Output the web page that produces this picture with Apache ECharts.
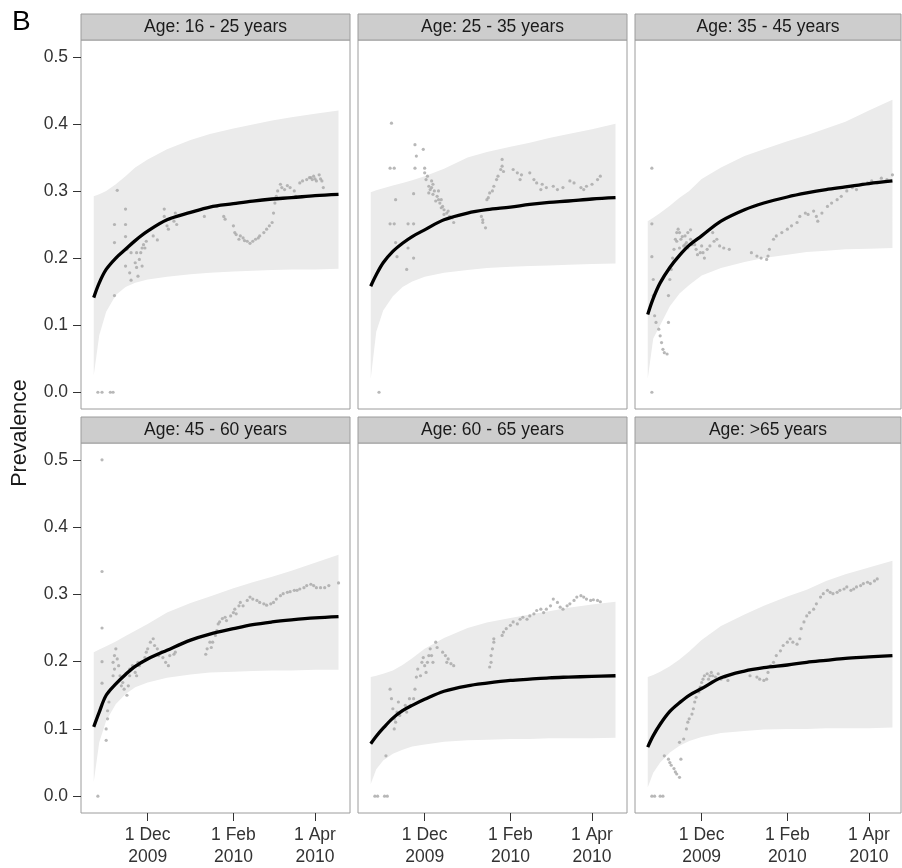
<!DOCTYPE html>
<html>
<head>
<meta charset="utf-8">
<script src="https://cdn.jsdelivr.net/npm/echarts@6/dist/echarts.min.js"></script>
<style>
html,body{margin:0;padding:0;background:#fff;}
#chart{width:902px;height:868px;}
</style>
</head>
<body>
<div id="chart"></div>
<script>
// ---------------- DATA (x = days since 1 Dec 2009) ----------------
const panelTitles = ['Age: 16 - 25 years','Age: 25 - 35 years','Age: 35 - 45 years',
                     'Age: 45 - 60 years','Age: 60 - 65 years','Age: >65 years'];
const xTickDays   = [0, 62, 121];
const xTickLabels = ['1 Dec\n2009', '1 Feb\n2010', '1 Apr\n2010'];
const yTicks      = [0, 0.1, 0.2, 0.3, 0.4, 0.5];
const yLabelText  = 'Prevalence';
const panelLetter = 'B';

// fitted curve & interval: 23 Oct, 27 Oct, 1 Nov, 8 Nov, 15 Nov, 22 Nov, 1 Dec, 15 Dec, 1 Jan, 15 Jan, 1 Feb, 15 Feb, 1 Mar, 15 Mar, 1 Apr, 18 Apr
const fitDays = [-39,-35,-30,-23,-16,-9,0,14,31,45,62,76,90,104,121,138];

const fit1 = [0.141,0.163,0.183,0.200,0.213,0.226,0.240,0.257,0.268,0.276,0.281,0.285,0.288,0.290,0.293,0.295];
const lo1  = [0.025,0.085,0.120,0.145,0.157,0.163,0.168,0.172,0.176,0.178,0.180,0.181,0.182,0.183,0.183,0.184];
const hi1  = [0.292,0.295,0.300,0.310,0.322,0.335,0.347,0.362,0.376,0.385,0.393,0.399,0.405,0.410,0.415,0.420];

const fit2 = [0.158,0.175,0.193,0.210,0.222,0.232,0.242,0.257,0.267,0.272,0.276,0.280,0.283,0.285,0.288,0.290];
const lo2  = [0.020,0.090,0.122,0.143,0.157,0.165,0.172,0.178,0.182,0.185,0.187,0.188,0.189,0.190,0.191,0.192];
const hi2  = [0.298,0.301,0.304,0.308,0.312,0.316,0.322,0.333,0.350,0.358,0.366,0.372,0.379,0.385,0.392,0.400];

const fit3 = [0.116,0.140,0.163,0.186,0.204,0.219,0.233,0.255,0.272,0.282,0.291,0.297,0.302,0.306,0.311,0.315];
const lo3  = [0.020,0.080,0.100,0.128,0.147,0.160,0.174,0.185,0.194,0.200,0.205,0.209,0.211,0.213,0.214,0.215];
const hi3  = [0.255,0.260,0.267,0.278,0.290,0.300,0.318,0.335,0.352,0.362,0.374,0.383,0.393,0.403,0.420,0.436];

const fit4 = [0.103,0.125,0.150,0.167,0.181,0.193,0.204,0.217,0.232,0.241,0.249,0.255,0.259,0.262,0.265,0.267];
const lo4  = [0.021,0.080,0.112,0.137,0.152,0.162,0.169,0.176,0.181,0.184,0.185,0.186,0.187,0.187,0.188,0.188];
const hi4  = [0.214,0.218,0.223,0.230,0.238,0.246,0.256,0.273,0.287,0.297,0.309,0.318,0.326,0.335,0.347,0.359];

const fit5 = [0.078,0.089,0.101,0.116,0.127,0.135,0.144,0.156,0.164,0.168,0.172,0.174,0.176,0.177,0.178,0.179];
const lo5  = [0.018,0.040,0.053,0.063,0.069,0.074,0.077,0.081,0.083,0.084,0.085,0.085,0.086,0.086,0.086,0.087];
const hi5  = [0.177,0.179,0.182,0.187,0.195,0.205,0.219,0.235,0.250,0.258,0.265,0.270,0.275,0.280,0.285,0.289];

const fit6 = [0.073,0.090,0.107,0.126,0.139,0.150,0.160,0.176,0.186,0.191,0.195,0.199,0.202,0.205,0.207,0.209];
const lo6  = [0.013,0.035,0.050,0.065,0.075,0.082,0.088,0.094,0.097,0.099,0.100,0.100,0.101,0.101,0.101,0.102];
const hi6  = [0.177,0.180,0.185,0.193,0.203,0.215,0.232,0.253,0.270,0.283,0.297,0.307,0.320,0.330,0.340,0.350];

// observed daily prevalence [day, value]
const obs1 = [[-36,0],[-33,0],[-27,0],[-25,0],[-24,0.144],[-22,0.301],[-24,0.25],[-24,0.223],
 [-16,0.273],[-16,0.25],[-16,0.232],[-16,0.188],[-15,0.213],[-13,0.178],[-12,0.167],[-12,0.208],
 [-9,0.193],[-8,0.208],[-8,0.186],[-7,0.173],[-6,0.198],[-5,0.208],[-4,0.188],[-4,0.215],[-3,0.22],[-2,0.215],[-1,0.225],
 [4,0.233],[7,0.227],[12,0.273],[12,0.262],[14,0.248],[15,0.243],[16,0.258],[19,0.255],[20,0.267],[21,0.25],
 [41,0.262],[50,0.277],[55,0.262],[56,0.258],
 [62,0.248],[63,0.238],[64,0.235],[66,0.228],[67,0.233],[69,0.23],[70,0.226],[72,0.225],[74,0.222],[76,0.225],[78,0.228],
 [80,0.23],[81,0.233],[84,0.238],[86,0.243],[88,0.248],[90,0.253],[91,0.267],[92,0.282],[93,0.292],[94,0.3],[96,0.31],[97,0.305],
 [99,0.302],[101,0.308],[103,0.305],[106,0.3],[107,0.292],[110,0.312],[112,0.315],[115,0.317],[117,0.32],[118,0.32],[119,0.317],
 [120,0.322],[121,0.318],[122,0.315],[124,0.324],[125,0.318],[126,0.315],[127,0.305]];

const obs2 = [[-33,0],[-24,0.401],[-25,0.334],[-22,0.334],[-21,0.287],[-25,0.251],[-22,0.251],[-12,0.251],[-8,0.251],
 [-21,0.223],[-20,0.202],[-13,0.183],[-12,0.215],[-8,0.2],[-8,0.296],[-7,0.369],[-6,0.352],[-1,0.362],[-7,0.334],[0,0.334],
 [0,0.327],[1,0.317],[2,0.322],[3,0.307],[3,0.297],[4,0.302],[5,0.315],[5,0.305],[6,0.31],[6,0.295],[7,0.3],[8,0.285],[9,0.292],
 [10,0.287],[10,0.3],[11,0.282],[12,0.287],[12,0.275],[13,0.277],[14,0.272],[14,0.265],[16,0.267],[17,0.27],[18,0.262],[20,0.26],[21,0.253],
 [41,0.262],[42,0.253],[42,0.257],[44,0.245],[45,0.287],[46,0.29],[47,0.297],[49,0.3],[50,0.307],[52,0.317],[53,0.322],[55,0.332],
 [56,0.347],[56,0.337],[57,0.329],[64,0.332],[67,0.327],[69,0.317],[70,0.324],[76,0.327],[79,0.317],[81,0.312],[84,0.302],[85,0.31],
 [88,0.305],[93,0.307],[96,0.302],[100,0.305],[105,0.315],[108,0.312],[113,0.305],[115,0.302],[117,0.307],[121,0.31],[125,0.317],[127,0.322]];

const obs3 = [[-36,0],[-36,0.334],[-36,0.251],[-36,0.202],[-35,0.168],[-35,0.144],[-34,0.114],[-33,0.104],
 [-31,0.094],[-30,0.084],[-29,0.074],[-28,0.064],[-27,0.059],[-25,0.057],[-24,0.104],[-24,0.144],[-23,0.168],[-22,0.183],[-21,0.2],[-20,0.213],
 [-19,0.228],[-18,0.238],[-18,0.225],[-17,0.243],[-16,0.238],[-16,0.215],[-15,0.228],[-14,0.232],[-13,0.218],[-12,0.233],[-12,0.22],
 [-11,0.223],[-10,0.238],[-10,0.215],[-8,0.228],[-8,0.242],[-7,0.22],[-6,0.225],[-5,0.22],[-4,0.213],[-3,0.205],[-1,0.208],[0,0.218],
 [1,0.208],[2,0.2],[4,0.213],[6,0.218],[8,0.238],[9,0.225],[11,0.228],[13,0.218],[16,0.215],[20,0.213],
 [36,0.208],[40,0.203],[43,0.2],[47,0.198],[48,0.203],[49,0.213],[52,0.228],[54,0.233],[58,0.238],[62,0.243],[65,0.248],[69,0.253],
 [71,0.262],[75,0.267],[77,0.265],[81,0.27],[83,0.262],[84,0.255],[87,0.267],[91,0.277],[94,0.282],[98,0.287],[101,0.292],[105,0.3],
 [109,0.305],[112,0.302],[116,0.31],[120,0.312],[123,0.315],[127,0.312],[130,0.319],[134,0.317],[138,0.324]];

const obs4 = [[-36,0],[-33,0.5],[-33,0.334],[-33,0.25],[-33,0.2],[-33,0.168],
 [-30,0.083],[-30,0.1],[-29,0.115],[-29,0.127],[-28,0.14],[-28,0.155],
 [-25,0.179],[-25,0.199],[-24,0.209],[-24,0.189],[-23,0.219],[-22,0.204],[-21,0.194],[-20,0.179],[-19,0.164],[-18,0.169],
 [-17,0.159],[-15,0.15],[-14,0.164],[-13,0.179],[-13,0.189],[-11,0.194],[-9,0.184],[-8,0.179],[-7,0.199],[-6,0.194],[-4,0.199],
 [-2,0.206],[-1,0.214],[0,0.219],[2,0.229],[4,0.234],[5,0.224],[7,0.219],[8,0.209],[10,0.214],[11,0.206],[13,0.199],[15,0.194],
 [16,0.209],[19,0.211],[20,0.214],
 [42,0.211],[43,0.219],[45,0.229],[46,0.221],[47,0.229],[49,0.239],[50,0.246],[51,0.256],[52,0.259],[54,0.264],[56,0.266],[57,0.261],
 [60,0.268],[62,0.273],[63,0.278],[64,0.271],[66,0.283],[67,0.288],[69,0.283],[72,0.291],[74,0.296],[76,0.293],[79,0.291],[81,0.288],
 [84,0.286],[86,0.284],[89,0.286],[91,0.288],[93,0.293],[96,0.298],[98,0.301],[101,0.303],[103,0.304],[106,0.306],[108,0.306],
 [110,0.308],[113,0.31],[115,0.313],[118,0.315],[120,0.313],[122,0.31],[125,0.31],[128,0.31],[131,0.313],[138,0.317]];

const obs5 = [[-36,0],[-34,0],[-29,0],[-27,0],[-28,0.06],
 [-25,0.159],[-24,0.145],[-23,0.13],[-22,0.115],[-22,0.1],[-21,0.11],[-20,0.125],[-19,0.14],[-18,0.12],
 [-16,0.127],[-14,0.135],[-13,0.125],[-11,0.145],[-10,0.135],[-8,0.145],[-7,0.159],[-6,0.177],[-5,0.189],[-3,0.179],[-2,0.199],
 [-1,0.206],[0,0.194],[1,0.184],[2,0.199],[3,0.209],[4,0.219],[5,0.209],[6,0.199],[8,0.229],[9,0.221],[13,0.214],[15,0.209],
 [16,0.199],[17,0.204],[19,0.197],[21,0.194],
 [47,0.192],[48,0.199],[48,0.209],[49,0.219],[50,0.229],[50,0.234],
 [56,0.239],[57,0.244],[59,0.249],[62,0.254],[64,0.259],[67,0.256],[69,0.263],[71,0.266],[74,0.263],[76,0.268],[79,0.271],[81,0.276],
 [84,0.278],[86,0.273],[88,0.278],[91,0.283],[93,0.293],[96,0.288],[98,0.281],[100,0.278],[103,0.283],[105,0.286],[108,0.291],
 [110,0.296],[113,0.298],[115,0.296],[117,0.293],[120,0.291],[122,0.292],[125,0.291],[127,0.289]];

const obs6 = [[-36,0],[-34,0],[-30,0],[-28,0],
 [-27,0.06],[-24,0.055],[-23,0.05],[-22,0.046],[-20,0.041],[-19,0.036],[-18,0.033],[-16,0.028],[-15,0.055],[-16,0.08],
 [-13,0.085],[-11,0.1],[-10,0.11],[-9,0.115],[-7,0.122],[-6,0.13],[-5,0.14],[-4,0.147],[-2,0.155],[-1,0.162],[0,0.169],[1,0.174],
 [2,0.179],[4,0.182],[5,0.174],[6,0.179],[7,0.184],[8,0.179],[10,0.177],[12,0.182],[14,0.174],[17,0.177],[19,0.172],
 [35,0.179],[40,0.177],[42,0.174],[45,0.172],[47,0.174],[48,0.184],[50,0.194],[52,0.199],[54,0.209],[57,0.216],[59,0.224],[62,0.229],
 [64,0.234],[66,0.229],[69,0.226],[71,0.234],[72,0.249],[74,0.259],[76,0.268],[78,0.273],[81,0.278],[83,0.286],[86,0.296],[88,0.301],
 [91,0.306],[93,0.303],[95,0.301],[98,0.303],[100,0.306],[103,0.308],[105,0.311],[108,0.306],[110,0.308],[112,0.311],[115,0.313],
 [117,0.316],[120,0.318],[122,0.316],[125,0.32],[127,0.323]];

// ---------------- LAYOUT / STYLE ----------------
const panels = [
  {fit: fit1, lo: lo1, hi: hi1, obs: obs1},
  {fit: fit2, lo: lo2, hi: hi2, obs: obs2},
  {fit: fit3, lo: lo3, hi: hi3, obs: obs3},
  {fit: fit4, lo: lo4, hi: hi4, obs: obs4},
  {fit: fit5, lo: lo5, hi: hi5, obs: obs5},
  {fit: fit6, lo: lo6, hi: hi6, obs: obs6}
];
const colLeft = [81, 358, 635], colWidth = [269, 269, 266];
const rowTop = [40, 443], rowHeight = [369, 370], stripH = 26;
const xMin = -48.2, xMaxByCol = [146.3, 146.3, 144.2];
const FONT = '"Liberation Sans", Arial, Helvetica, sans-serif';

function bandRenderer(p) {
  return function (params, api) {
    if (params.dataIndex !== 0) return null;
    const upper = fitDays.map((d, k) => api.coord([d, p.hi[k]]));
    const lower = fitDays.map((d, k) => api.coord([d, p.lo[k]])).reverse();
    return {type: 'polygon', shape: {points: upper.concat(lower)},
      style: {fill: '#ebebeb', stroke: null}, silent: true};
  };
}

const grids = [], xAxes = [], yAxes = [], series = [], graphics = [];
panels.forEach((p, i) => {
  const r = Math.floor(i / 3), c = i % 3;
  grids.push({left: colLeft[c], top: rowTop[r], width: colWidth[c], height: rowHeight[r],
    show: true, borderColor: '#9c9c9c', borderWidth: 1, backgroundColor: 'transparent'});
  xAxes.push({type: 'value', gridIndex: i, min: xMin, max: xMaxByCol[c], position: 'bottom',
    axisLine: {show: false, onZero: false}, splitLine: {show: false},
    axisTick: {show: r === 1, customValues: xTickDays, length: 8, lineStyle: {color: '#333', width: 1}},
    axisLabel: {show: r === 1, customValues: xTickDays, margin: 11, fontSize: 17.5, lineHeight: 22,
      color: '#333', fontFamily: FONT,
      formatter: v => { const k = xTickDays.indexOf(Math.round(v)); return k >= 0 ? xTickLabels[k] : ''; }}});
  yAxes.push({type: 'value', gridIndex: i, min: -0.025, max: 0.525, position: 'left',
    axisLine: {show: false, onZero: false}, splitLine: {show: false},
    axisTick: {show: c === 0, customValues: yTicks, length: 8, lineStyle: {color: '#333', width: 1}},
    axisLabel: {show: c === 0, customValues: yTicks, margin: 13, fontSize: 17.5, color: '#333', fontFamily: FONT,
      formatter: v => v.toFixed(1)}});
  series.push({type: 'custom', xAxisIndex: i, yAxisIndex: i, renderItem: bandRenderer(p),
    data: fitDays.map((d, k) => [d, p.lo[k], p.hi[k]]), encode: {x: 0, y: [1, 2]}, silent: true, z: 1});
  series.push({type: 'scatter', xAxisIndex: i, yAxisIndex: i, data: p.obs, symbolSize: 3.2,
    itemStyle: {color: '#a6a6a6'}, silent: true, z: 2});
  series.push({type: 'line', xAxisIndex: i, yAxisIndex: i, symbol: 'none', smooth: 0.35,
    data: fitDays.map((d, k) => [d, p.fit[k]]), lineStyle: {color: '#000', width: 3.3}, silent: true, z: 3});
  graphics.push({type: 'rect', shape: {x: colLeft[c], y: rowTop[r] - stripH, width: colWidth[c], height: stripH},
    style: {fill: '#cdcdcd', stroke: '#9c9c9c', lineWidth: 1}, z: 10});
  graphics.push({type: 'text', x: colLeft[c] + colWidth[c] / 2, y: rowTop[r] - stripH / 2,
    style: {text: panelTitles[i], font: '17.5px ' + FONT, fill: '#1a1a1a', align: 'center', verticalAlign: 'middle'}, z: 11});
});
graphics.push({type: 'text', x: 12, y: 22,
  style: {text: panelLetter, font: '28px ' + FONT, fill: '#000', align: 'left', verticalAlign: 'middle'}});
graphics.push({type: 'text', x: 20, y: 433, rotation: Math.PI / 2,
  style: {text: yLabelText, font: '21.5px ' + FONT, fill: '#1a1a1a', align: 'center', verticalAlign: 'middle'}});

const chart = echarts.init(document.getElementById('chart'), null, {renderer: 'canvas'});
chart.setOption({
  animation: false,
  backgroundColor: '#fff',
  grid: grids, xAxis: xAxes, yAxis: yAxes, series: series, graphic: graphics
});
</script>
</body>
</html>
